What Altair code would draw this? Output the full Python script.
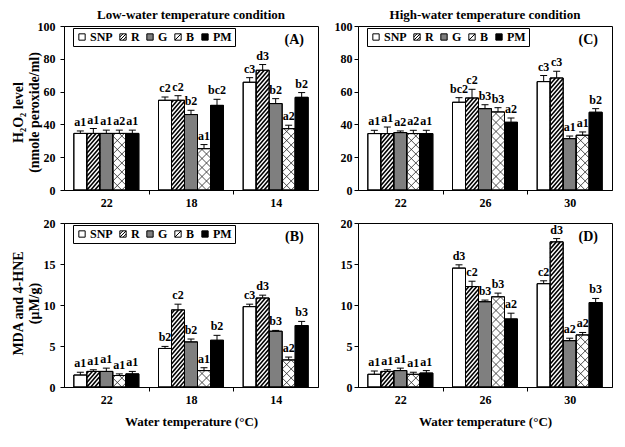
import altair as alt
import pandas as pd

# ---------------- data ----------------
series = ["SNP", "R", "G", "B", "PM"]
series_fill = ["#ffffff", "#ffffff", "#7f7f7f", "#ffffff", "#000000"]
SQ = "M-1,-1H1V1H-1Z"
series_shape = [SQ, SQ + "M-1,1L1,-1M-1,0L0,-1M0,1L1,0", SQ, SQ + "M-1,1L1,-1", SQ]

low_temps = ["22", "18", "14"]
high_temps = ["22", "26", "30"]

# H2O2 level, low-water temperature (A)
h2o2_low_mean = {"SNP": [34.5, 54.7, 65.7], "R": [34.5, 54.7, 73.0], "G": [34.5, 46.0, 52.7],
                 "B": [34.5, 25.2, 37.4], "PM": [34.5, 51.6, 56.5]}
h2o2_low_err = {"SNP": [1.5, 2.0, 2.8], "R": [3.0, 2.8, 3.5], "G": [2.0, 2.6, 3.0],
                "B": [2.0, 2.5, 2.1], "PM": [2.0, 3.7, 2.9]}
h2o2_low_sig = {"SNP": ["a1", "c2", "c3"], "R": ["a1", "c2", "d3"], "G": ["a1", "b2", "b2"],
                "B": ["a2", "a1", "a2"], "PM": ["a1", "bc2", "b2"]}

# H2O2 level, high-water temperature (C)
h2o2_high_mean = {"SNP": [34.4, 53.5, 66.1], "R": [34.4, 56.1, 68.3], "G": [35.0, 49.6, 31.3],
                  "B": [34.4, 47.6, 33.4], "PM": [34.4, 41.3, 47.4]}
h2o2_high_err = {"SNP": [2.0, 2.8, 3.7], "R": [4.0, 5.3, 4.1], "G": [1.0, 2.4, 1.6],
                 "B": [2.0, 2.6, 2.0], "PM": [2.0, 2.6, 2.2]}
h2o2_high_sig = {"SNP": ["a1", "bc2", "c3"], "R": ["a1", "c2", "c3"], "G": ["a2", "b3", "a1"],
                 "B": ["a2", "b3", "a1"], "PM": ["a1", "a2", "b2"]}

# MDA and 4-HNE, low-water temperature (B)
mda_low_mean = {"SNP": [1.46, 4.7, 9.8], "R": [1.9, 9.4, 10.85], "G": [1.9, 5.5, 6.8],
                "B": [1.4, 2.0, 3.3], "PM": [1.6, 5.7, 7.5]}
mda_low_err = {"SNP": [0.34, 0.25, 0.3], "R": [0.2, 0.7, 0.35], "G": [0.4, 0.35, 0.1],
               "B": [0.2, 0.35, 0.35], "PM": [0.3, 0.6, 0.5]}
mda_low_sig = {"SNP": ["a1", "b2", "c3"], "R": ["a1", "c2", "d3"], "G": ["a1", "b2", "b3"],
               "B": ["a1", "a1", "a2"], "PM": ["a1", "b2", "b3"]}

# MDA and 4-HNE, high-water temperature (D)
mda_high_mean = {"SNP": [1.55, 14.5, 12.6], "R": [1.9, 12.25, 17.7], "G": [2.0, 10.4, 5.65],
                 "B": [1.55, 11.0, 6.35], "PM": [1.7, 8.3, 10.3]}
mda_high_err = {"SNP": [0.4, 0.4, 0.35], "R": [0.2, 0.65, 0.4], "G": [0.3, 0.2, 0.3],
                "B": [0.25, 0.45, 0.3], "PM": [0.3, 0.7, 0.5]}
mda_high_sig = {"SNP": ["a1", "d3", "c2"], "R": ["a1", "c2", "d3"], "G": ["a1", "b3", "a2"],
                "B": ["a1", "b3", "a2"], "PM": ["a1", "a2", "b3"]}

# ---------------- layout / style ----------------
FONT = "Liberation Serif"
W, H = 254, 164
GROUP_PX = W / 3
BAR_PX = 13
BW = BAR_PX / GROUP_PX
CAP = 3.5 / GROUP_PX


def make_panel(groups, means, errs, sigs, ymax, ystep, tag, tag_y, ytitle, title_y,
               xtitle, title, show_legend, lab_pad):
    rows = []
    for i, s in enumerate(series):
        for g, grp in enumerate(groups):
            rows.append({"g": g, "i": i, "series": s, "v": means[s][g],
                         "e": errs[s][g], "sig": sigs[s][g]})
    df = pd.DataFrame(rows)
    ppu = H / ymax

    xscale = alt.Scale(domain=[0, 3], nice=False, zero=False)
    yscale = alt.Scale(domain=[0, ymax], nice=False)
    lab_expr = "".join(f"datum.value == {g + 0.5} ? '{name}' : " for g, name in enumerate(groups)) + "''"
    xaxis = alt.Axis(values=[0.5, 1, 1.5, 2, 2.5], labelExpr=lab_expr,
                     tickOpacity={"condition": {"test": "datum.value % 1 == 0", "value": 1}, "value": 0},
                     tickSize=4, labelPadding=3, title=xtitle, titlePadding=10, grid=False,
                     labelOverlap=False)
    ykw = dict(values=list(range(0, ymax + 1, ystep)), tickSize=4, labelPadding=lab_pad,
               grid=False, title=ytitle)
    if ytitle is not None:
        ykw.update(titleX=-39, titleY=title_y, titleBaseline="bottom", titleLineHeight=16,
                   titleFontSize=14, titleAlign="center")
    yaxis = alt.Axis(**ykw)

    def X(field=None, datum=None):
        if datum is not None:
            return alt.X(datum=datum, type="quantitative", scale=xscale, axis=xaxis)
        return alt.X(field, type="quantitative", scale=xscale, axis=xaxis)

    def Y(field=None, datum=None):
        if datum is not None:
            return alt.Y(datum=datum, type="quantitative", scale=yscale, axis=yaxis)
        return alt.Y(field, type="quantitative", scale=yscale, axis=yaxis)

    fill_scale = alt.Scale(domain=series, range=series_fill)
    shape_scale = alt.Scale(domain=series, range=series_shape)

    if show_legend:
        leg = alt.Legend(orient="none", legendX=9, legendY=2, direction="horizontal", columns=5,
                         title=" ", titleOrient="left", titlePadding=0, strokeColor="black",
                         fillColor="white", padding=3, symbolSize=40, symbolStrokeWidth=1,
                         symbolStrokeColor="black", labelFont=FONT, labelFontSize=12,
                         labelFontWeight="bold", labelColor="black", labelOffset=2,
                         columnPadding=4, gridAlign="each")
    else:
        leg = None

    base = alt.Chart(df).transform_calculate(
        xl=f"datum.g + 0.5 + (datum.i - 2.5) * {BW}",
        xr=f"datum.g + 0.5 + (datum.i - 1.5) * {BW}",
        xc=f"datum.g + 0.5 + (datum.i - 2) * {BW}",
        top="datum.v + datum.e",
    )

    bars = base.mark_rect(stroke="black", strokeWidth=1).encode(
        x=X("xl"), x2="xr:Q", y=Y("v"), y2=alt.datum(0),
        fill=alt.Fill("series:N", scale=fill_scale, legend=leg))

    def hatch(sname, period_px, rise_px, direction, width, color):
        pu = period_px / ppu
        ru = rise_px / ppu
        c = base.transform_filter(f"datum.series == '{sname}'").transform_calculate(
            ks=f"sequence(-ceil({ru} / {pu}) - 1, ceil((datum.v + {ru}) / {pu}) + 2)"
        ).transform_flatten(["ks"]).transform_calculate(ys=f"datum.ks * {pu}")
        if direction > 0:
            c = c.transform_calculate(t0=f"max(0, -datum.ys / {ru})",
                                      t1=f"min(1, (datum.v - datum.ys) / {ru})")
        else:
            c = c.transform_calculate(t0=f"max(0, (datum.ys - datum.v) / {ru})",
                                      t1=f"min(1, datum.ys / {ru})")
        c = c.transform_filter("datum.t1 > datum.t0").transform_calculate(
            hx1=f"datum.xl + datum.t0 * {BW}", hx2=f"datum.xl + datum.t1 * {BW}",
            hy1=f"datum.ys + ({direction}) * datum.t0 * {ru}",
            hy2=f"datum.ys + ({direction}) * datum.t1 * {ru}")
        return c.mark_rule(stroke=color, strokeWidth=width).encode(
            x=X("hx1"), x2="hx2:Q", y=Y("hy1"), y2="hy2:Q")

    hatch_r = hatch("R", 4.6, 15, 1, 1.6, "black")
    hatch_b1 = hatch("B", 9, 13, 1, 0.8, "#222222")
    hatch_b2 = hatch("B", 9, 13, -1, 0.8, "#222222")

    outline = base.mark_rect(fillOpacity=0, stroke="black", strokeWidth=1).encode(
        x=X("xl"), x2="xr:Q", y=Y("v"), y2=alt.datum(0))

    err = base.mark_rule(color="black", strokeWidth=1).encode(x=X("xc"), y=Y("v"), y2="top:Q")
    cap = base.transform_calculate(c1=f"datum.xc - {CAP}", c2=f"datum.xc + {CAP}").mark_rule(
        color="black", strokeWidth=1).encode(x=X("c1"), x2="c2:Q", y=Y("top"))
    sig = base.mark_text(baseline="bottom", dy=-2, font=FONT, fontSize=12, fontWeight="bold",
                         color="black").encode(x=X("xc"), y=Y("top"), text="sig:N")

    tagc = alt.Chart(pd.DataFrame({"t": [tag]})).mark_text(
        font=FONT, fontSize=14, fontWeight="bold", color="black").encode(
        x=X(datum=2.72), y=Y(datum=tag_y), text="t:N")

    layers = [bars, hatch_r, hatch_b1, hatch_b2, outline, err, cap, sig, tagc]

    if show_legend:
        legpts = base.transform_filter("false").mark_point(
            filled=True, stroke="black", strokeWidth=1, opacity=1).encode(
            x=X("xc"), y=Y("v"),
            fill=alt.Fill("series:N", scale=fill_scale, legend=leg),
            shape=alt.Shape("series:N", scale=shape_scale, legend=leg))
        layers.append(legpts)

    ch = alt.layer(*layers).properties(width=W, height=H)
    if title is not None:
        ch = ch.properties(title=alt.Title(title, font=FONT, fontSize=13, fontWeight="bold",
                                           color="black", offset=-2))
    return ch


panel_a = make_panel(low_temps, h2o2_low_mean, h2o2_low_err, h2o2_low_sig, 100, 20, "(A)", 91.5,
                     ["H\u2082O\u2082 level", "(nmole  peroxide/ml)"], 86, None,
                     "Low-water  temperature  condition", True, 5)
panel_c = make_panel(high_temps, h2o2_high_mean, h2o2_high_err, h2o2_high_sig, 100, 20, "(C)", 91.5,
                     None, 0, None, "High-water  temperature  condition", True, 2)
panel_b = make_panel(low_temps, mda_low_mean, mda_low_err, mda_low_sig, 20, 5, "(B)", 18.3,
                     ["MDA  and 4-HNE", "(\u03bcM/g)"], 80, "Water temperature  (\u00b0C)",
                     None, True, 5)
panel_d = make_panel(high_temps, mda_high_mean, mda_high_err, mda_high_sig, 20, 5, "(D)", 18.3,
                     None, 0, "Water temperature  (\u00b0C)", None, False, 2)

chart = alt.concat(panel_a, panel_c, panel_b, panel_d, columns=2,
                   spacing={"row": 33, "column": 40}, bounds="flush").resolve_scale(
    fill="independent", shape="independent"
).properties(
    padding={"left": 2, "top": 0, "right": 2, "bottom": 2}
).configure_view(
    stroke="black", strokeWidth=1
).configure_axis(
    labelFont=FONT, labelFontSize=12, labelFontWeight="bold", labelColor="black",
    titleFont=FONT, titleFontSize=13, titleFontWeight="bold", titleColor="black",
    domainColor="black", tickColor="black", domainWidth=1, tickWidth=1
).configure_title(
    font=FONT, fontSize=13, fontWeight="bold", color="black"
)

chart.save("out.html", embed_options={"renderer": "svg", "actions": False})
